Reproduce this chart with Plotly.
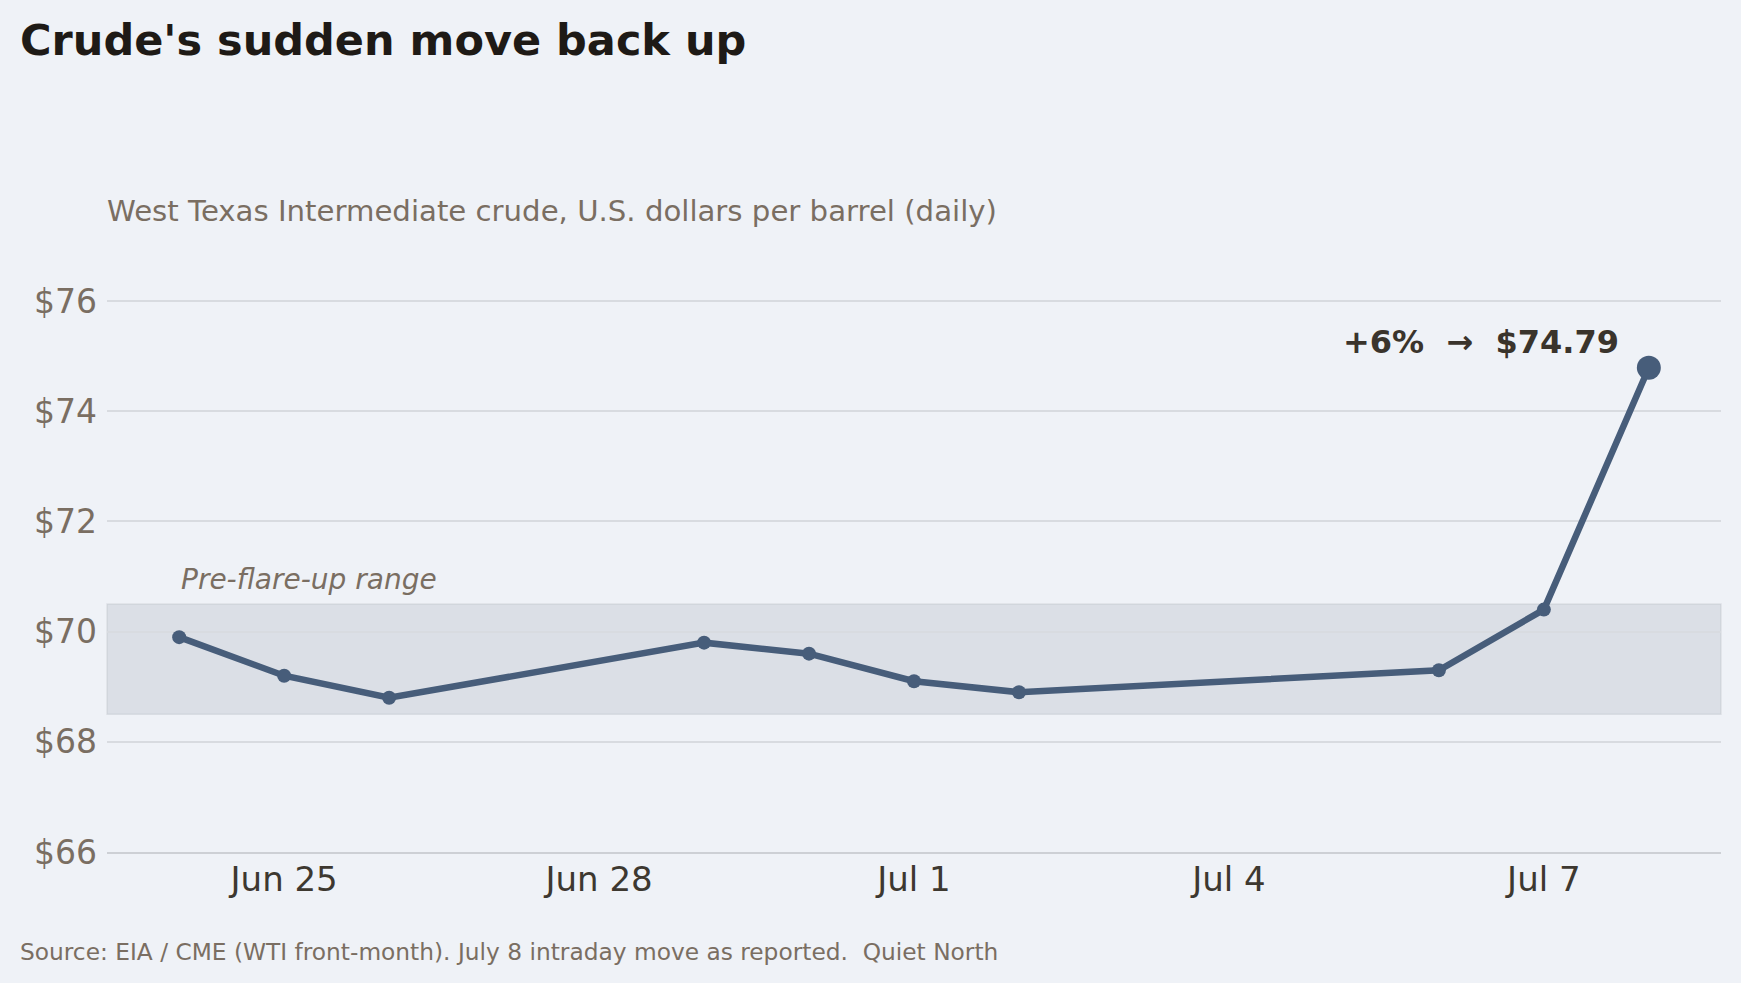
import plotly.graph_objects as go

# WTI daily closes (Jul 8 is the intraday move)
dates = ['2026-06-24', '2026-06-25', '2026-06-26', '2026-06-29', '2026-06-30',
         '2026-07-01', '2026-07-02', '2026-07-06', '2026-07-07', '2026-07-08']
prices = [69.9, 69.2, 68.8, 69.8, 69.6, 69.1, 68.9, 69.3, 70.4, 74.79]

range_low = 68.5
range_high = 70.5
y_ticks = [66, 68, 70, 72, 74, 76]
y_labels = ['$66', '$68', '$70', '$72', '$74', '$76']

bg = '#eff2f7'
line_col = '#475d7a'
muted = '#7a6e62'
font = 'DejaVu Sans'

fig = go.Figure()

fig.add_trace(go.Scatter(
    x=dates, y=prices, mode='lines+markers',
    line=dict(color=line_col, width=6.5),
    marker=dict(color=line_col, size=14),
    hoverinfo='skip', showlegend=False,
))

# bigger dot on the last point
fig.add_trace(go.Scatter(
    x=dates[-1:], y=prices[-1:], mode='markers',
    marker=dict(color=line_col, size=24),
    hoverinfo='skip', showlegend=False,
))

# the pre-flare-up band
fig.add_shape(type='rect', xref='paper', yref='y', x0=0, x1=1,
              y0=range_low, y1=range_high, layer='below',
              fillcolor='rgba(170,175,185,0.28)',
              line=dict(color='rgba(170,175,185,0.25)', width=1.5))

fig.add_annotation(x=dates[0], y=70.94, xref='x', yref='y', xanchor='left',
                   yanchor='middle', showarrow=False,
                   text='<i>Pre-flare-up range</i>',
                   font=dict(family=font, size=28, color=muted))

fig.add_annotation(x=dates[-1], y=75.26, xref='x', yref='y', xanchor='right',
                   yanchor='middle', xshift=-28, showarrow=False,
                   text='<b>+6%&nbsp;&nbsp;→&nbsp;&nbsp;$74.79</b>',
                   font=dict(family=font, size=32, color='#3a342c'))

fig.add_annotation(x=-0.0015, y=1.058, xref='paper', yref='paper', xanchor='left',
                   yanchor='middle', showarrow=False,
                   text='West Texas Intermediate crude, U.S. dollars per barrel (daily)',
                   font=dict(family=font, size=29.2, color=muted))

fig.add_annotation(x=-0.0553, y=-0.165, xref='paper', yref='paper', xanchor='left',
                   yanchor='middle', showarrow=False,
                   text='Source: EIA / CME (WTI front-month). July 8 intraday move as reported.&nbsp;&nbsp;Quiet North',
                   font=dict(family=font, size=23.3, color=muted))

fig.update_layout(
    width=1741, height=983,
    margin=dict(l=107, r=20, t=246, b=131),
    paper_bgcolor=bg, plot_bgcolor=bg,
    font=dict(family=font),
    title=dict(text="<b>Crude's sudden move back up</b>",
               x=0.0115, xref='container', xanchor='left',
               y=1 - 40 / 983, yref='container', yanchor='middle',
               font=dict(family=font, size=43, color='#1e1a16')),
    xaxis=dict(range=['2026-06-23 07:30', '2026-07-08 16:30'],
               tick0='2026-06-25', dtick=3 * 86400000, tickformat='%b %-d',
               showgrid=False, zeroline=False,
               showline=True, linecolor='#cdd0d5', linewidth=2,
               ticks='', ticklabelstandoff=-4,
               tickfont=dict(family=font, size=34, color='#3d3830')),
    yaxis=dict(range=[66, 77], tickvals=y_ticks, ticktext=y_labels,
               showgrid=True, gridcolor='#d8dbe0', gridwidth=2,
               zeroline=False, ticks='', ticklabelstandoff=9,
               tickfont=dict(family=font, size=33, color=muted)),
)

# drop the default page margin so the chart sits at the window corner
fig.write_html('out.html', config={'displayModeBar': False},
               post_script="document.body.style.margin='0';")
